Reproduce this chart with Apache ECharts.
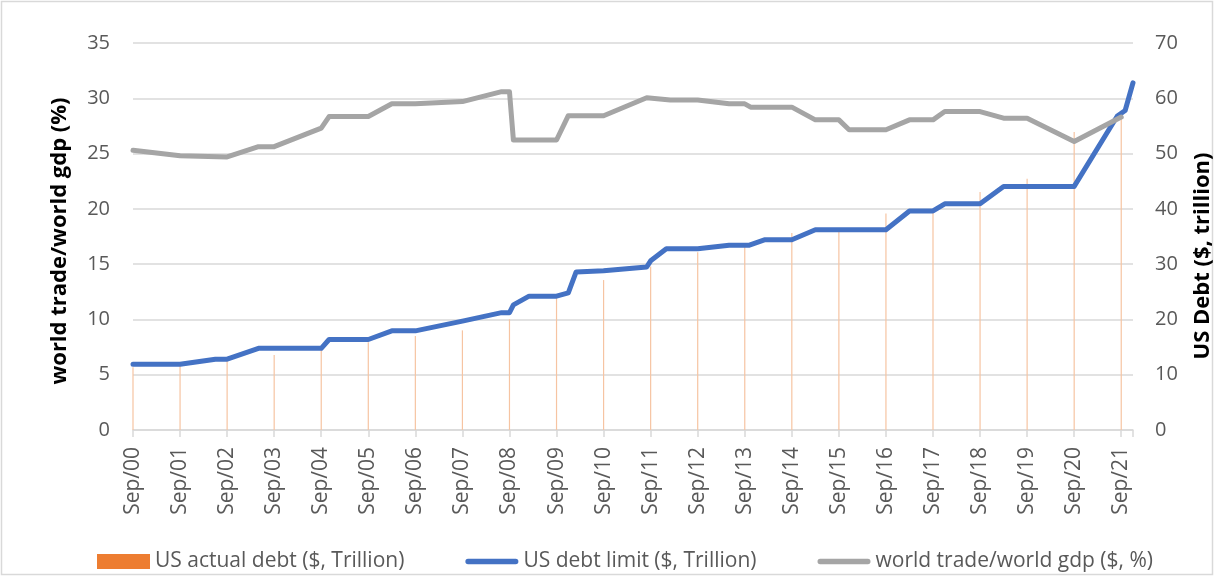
<!DOCTYPE html>
<html>
<head>
<meta charset="utf-8">
<script src="https://cdn.jsdelivr.net/npm/echarts@6/dist/echarts.min.js"></script>
<style>
html,body{margin:0;padding:0;background:#fff;}
#c{width:1215px;height:577px;}
</style>
</head>
<body>
<div id="c"></div>
<script>
// Months counted from Sep 2000 (0 = Sep/00, 12 = Sep/01, ...)
var tickLabels = ['Sep/00','Sep/01','Sep/02','Sep/03','Sep/04','Sep/05','Sep/06','Sep/07','Sep/08','Sep/09','Sep/10',
                  'Sep/11','Sep/12','Sep/13','Sep/14','Sep/15','Sep/16','Sep/17','Sep/18','Sep/19','Sep/20','Sep/21'];
var actualMonths = [0,12,24,36,48,60,72,84,96,108,120,132,144,156,168,180,192,204,216,228,240,252];
var actualDebt   = [5.67,5.81,6.23,6.78,7.38,7.93,8.51,9.01,10.02,11.91,13.56,14.79,16.07,16.74,17.82,18.15,19.57,19.85,21.52,22.72,26.95,28.43];

var limitMonths = [0,12,21,24,32,48,50,60,66,72,84,94,96,97,101,108,111,113,120,131,132,136,144,152,157,161,168,174,192,198,204,207,216,222,240,251,253,255];
var limitValues = [5.95,5.95,6.4,6.4,7.384,7.384,8.184,8.184,8.965,8.965,9.85,10.615,10.615,11.315,12.104,12.104,12.394,14.294,14.4,14.75,15.3,16.394,16.394,16.699,16.699,17.2,17.2,18.113,18.113,19.808,19.808,20.456,20.456,22.03,22.03,28.4,28.9,31.4];

var tradeMonths = [0,12,24,32,36,48,50,60,66,72,84,94,96,97,108,111,120,131,137,144,152,156,157.5,168,174,180,182.6,192,198,204,207,216,222,228,240,252];
var tradeValues = [50.6,49.6,49.4,51.25,51.25,54.6,56.7,56.7,59.0,59.0,59.4,61.2,61.2,52.45,52.45,56.85,56.85,60.1,59.7,59.7,59.0,59.0,58.4,58.4,56.1,56.1,54.3,54.3,56.1,56.1,57.6,57.6,56.4,56.4,52.2,56.6];

function zip(a,b){var r=[];for(var i=0;i<a.length;i++)r.push([a[i],b[i]]);return r;}

var FONT = 'Open Sans';
var LINE_ICON = 'path://M5,0 H95 A5,5 0 0 1 95,10 H5 A5,5 0 0 1 5,0 Z';
var chart = echarts.init(document.getElementById('c'));
chart.setOption({
  backgroundColor:'#fff',
  animation:false,
  textStyle:{fontFamily:FONT},
  grid:{left:133,right:82,top:43,bottom:147,containLabel:false},
  legend:{
    left:97, top:551, padding:0, itemWidth:53, itemHeight:15, itemGap:61,
    textStyle:{fontFamily:FONT,fontSize:21,color:'#595959'},
    data:[
      {name:'US actual debt ($, Trillion)', icon:'rect', itemStyle:{color:'#ED7D31',opacity:1}},
      {name:'US debt limit ($, Trillion)', icon:LINE_ICON, itemStyle:{color:'#4472C4'}},
      {name:'world trade/world gdp ($, %)', icon:LINE_ICON, itemStyle:{color:'#A5A5A5'}}
    ]
  },
  xAxis:{
    type:'value', min:0, max:255, interval:12,
    axisLine:{show:true,lineStyle:{color:'#D9D9D9',width:1.5}},
    axisTick:{show:true,length:7,lineStyle:{color:'#D9D9D9',width:1.5}},
    splitLine:{show:false},
    axisLabel:{
      rotate:90, margin:17, fontSize:21, color:'#595959', fontFamily:FONT,
      formatter:function(v){ if(v%12!==0) return ''; var i=v/12; return tickLabels[i]||''; }
    }
  },
  yAxis:[
    {type:'value',min:0,max:35,interval:5,position:'left',
     axisLine:{show:false},axisTick:{show:false},
     splitLine:{lineStyle:{color:'#D9D9D9',width:1.5}},
     axisLabel:{fontSize:20,color:'#595959',margin:23,fontFamily:FONT}},
    {type:'value',min:0,max:70,interval:10,position:'right',
     axisLine:{show:false},axisTick:{show:false},splitLine:{show:false},
     axisLabel:{fontSize:20,color:'#595959',margin:22,fontFamily:FONT}}
  ],
  graphic:[
    {type:'rect',shape:{x:1.5,y:1.5,width:1211,height:573},style:{fill:'none',stroke:'#D9D9D9',lineWidth:1.5},z:-1},
    {type:'text',x:60,y:241,rotation:Math.PI/2,
     style:{text:'world trade/world gdp (%)',fontFamily:FONT,fontWeight:'bold',fontSize:22,fill:'#000',textAlign:'center',textVerticalAlign:'middle'}},
    {type:'text',x:1203,y:256,rotation:Math.PI/2,
     style:{text:'US Debt ($, trillion)',fontFamily:FONT,fontWeight:'bold',fontSize:22,fill:'#000',textAlign:'center',textVerticalAlign:'middle'}}
  ],
  series:[
    {name:'US actual debt ($, Trillion)',type:'bar',yAxisIndex:0,barWidth:1.2,
     itemStyle:{color:'#F6C4A2'},data:zip(actualMonths,actualDebt),z:1},
    {name:'US debt limit ($, Trillion)',type:'line',yAxisIndex:0,symbol:'none',
     lineStyle:{color:'#4472C4',width:5,cap:'round',join:'round'},itemStyle:{color:'#4472C4'},
     data:zip(limitMonths,limitValues),z:3},
    {name:'world trade/world gdp ($, %)',type:'line',yAxisIndex:1,symbol:'none',
     lineStyle:{color:'#A5A5A5',width:5,cap:'round',join:'round'},itemStyle:{color:'#A5A5A5'},
     data:zip(tradeMonths,tradeValues),z:4}
  ]
});
</script>
</body>
</html>
